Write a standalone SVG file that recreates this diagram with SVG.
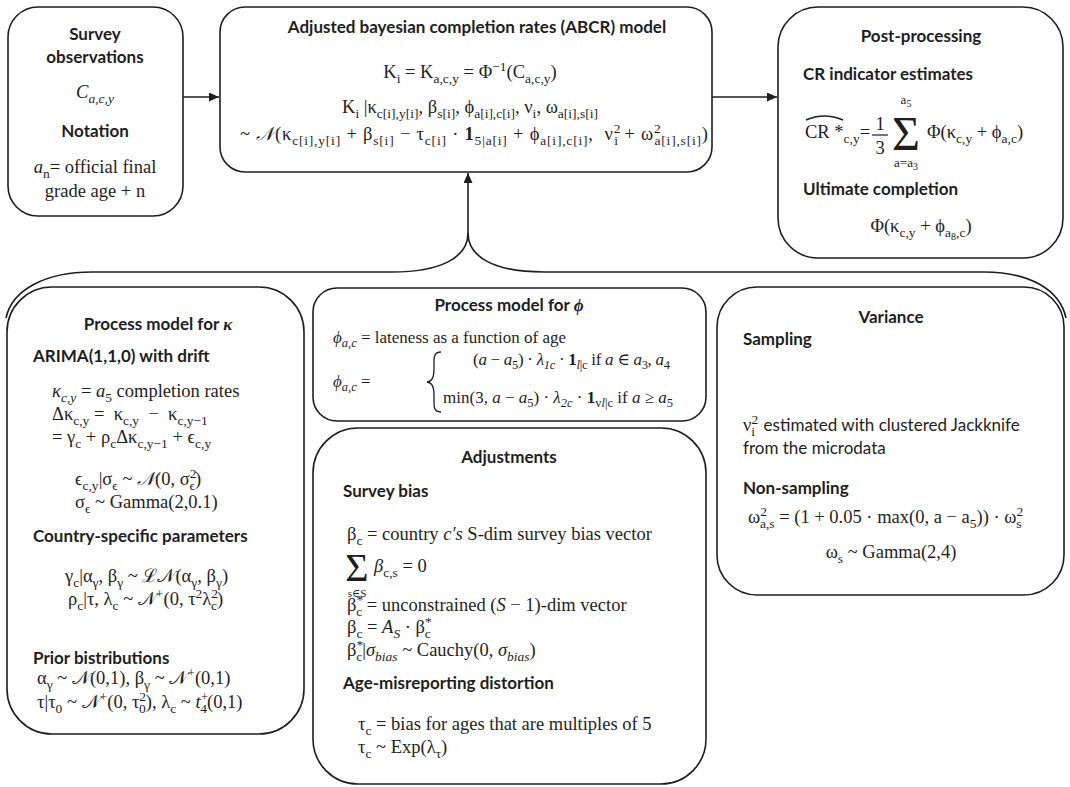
<svg xmlns="http://www.w3.org/2000/svg" width="1070" height="787" viewBox="0 0 1070 787">
<style>
.box{fill:#fff;stroke:#1e1e1e;stroke-width:1.6}
.con{fill:none;stroke:#1e1e1e;stroke-width:1.6}
.h{font-family:Lato,"Open Sans","Liberation Sans",sans-serif;font-weight:700;font-size:17px;fill:#1e1e1e}
.t{font-family:Lato,"Open Sans","Liberation Sans",sans-serif;font-size:17px;fill:#1e1e1e}
.m{font-family:"Liberation Serif","DejaVu Serif",serif;font-size:18.5px;fill:#1e1e1e}
.m17{font-size:17px}
.it{font-style:italic}
.bi{font-family:"Liberation Serif","DejaVu Serif",serif;font-style:italic;font-weight:700}
.b{font-weight:700}
.sb{font-size:13.5px;baseline-shift:-4.5px}
.sp{font-size:13.5px;baseline-shift:7.5px}
.m17 .sb{font-size:12.5px;baseline-shift:-4px}
.sm{font-size:13px}
.ss{font-size:10px;baseline-shift:-3px}
.big{font-size:40px}
.big2{font-size:48px}
</style>
<defs>
<marker id="ah" markerUnits="userSpaceOnUse" markerWidth="10" markerHeight="9" refX="10" refY="4.5" orient="auto">
<path d="M0,0 L10,4.5 L0,9 z" fill="#1e1e1e"/>
</marker>
</defs>

<g id="connectors">
<line class="con" x1="183" y1="97" x2="219" y2="97" marker-end="url(#ah)"/>
<line class="con" x1="710" y1="97" x2="777" y2="97" marker-end="url(#ah)"/>
<line class="con" x1="468" y1="233" x2="468" y2="173" marker-end="url(#ah)"/>
<path class="con" d="M468 233 C468 258 440 272 392 272 L92 272 C45 272 12 290 6 318"/>
<path class="con" d="M468 233 C468 258 496 272 544 272 L984 272 C1030 272 1060 290 1066 318"/>
</g>

<g id="survey">
<rect class="box" x="8" y="7" width="175" height="209" rx="30"/>
<text class="h" x="95" y="40" text-anchor="middle">Survey</text>
<text class="h" x="95" y="63" text-anchor="middle">observations</text>
<text class="m it" x="95" y="98" text-anchor="middle">C<tspan class="sb">a,c,y</tspan></text>
<text class="h" x="95" y="137" text-anchor="middle">Notation</text>
<text class="m" x="95" y="173" text-anchor="middle"><tspan class="it">a</tspan><tspan class="sb">n</tspan>= official final</text>
<text class="m" x="95" y="197" text-anchor="middle">grade age + n</text>
</g>

<g id="abcr">
<rect class="box" x="220" y="7" width="492" height="165" rx="25"/>
<text class="h" x="477" y="33" text-anchor="middle">Adjusted bayesian completion rates (ABCR) model</text>
<text class="m" x="470" y="78" text-anchor="middle">K<tspan class="sb">i</tspan> = K<tspan class="sb">a,c,y</tspan> = Φ<tspan class="sp">−1</tspan>(C<tspan class="sb">a,c,y</tspan>)</text>
<text class="m" x="470" y="113" text-anchor="middle">K<tspan class="sb">i</tspan> |κ<tspan class="sb">c[i],y[i]</tspan>, β<tspan class="sb">s[i]</tspan>, ϕ<tspan class="sb">a[i],c[i]</tspan>, ν<tspan class="sb">i</tspan>, ω<tspan class="sb">a[i],s[i]</tspan></text>
<text class="m" x="240" y="140" textLength="468" lengthAdjust="spacing">~ <tspan class="it">𝒩</tspan>(κ<tspan class="sb">c[i],y[i]</tspan> + β<tspan class="sb">s[i]</tspan> − τ<tspan class="sb">c[i]</tspan> · <tspan class="b">1</tspan><tspan class="sb">5|a[i]</tspan> + ϕ<tspan class="sb">a[i],c[i]</tspan>,&#160; ν<tspan class="sp">2</tspan><tspan class="sb" dx="-7">i</tspan> + ω<tspan class="sp">2</tspan><tspan class="sb" dx="-7">a[i],s[i]</tspan>)</text>
</g>

<g id="post">
<rect class="box" x="778" y="7" width="285" height="251" rx="40"/>
<text class="h" x="921" y="42" text-anchor="middle">Post-processing</text>
<text class="h" x="803" y="80">CR indicator estimates</text>
<path class="con" d="M806 120 Q824 112 843 120" stroke-width="1"/>
<text class="m" x="805" y="138">CR *<tspan class="sb">c,y</tspan>=</text>
<text class="m" x="880" y="130" text-anchor="middle">1</text>
<line x1="872" y1="135" x2="888" y2="135" stroke="#1e1e1e" stroke-width="1.2"/>
<text class="m" x="880" y="154" text-anchor="middle">3</text>
<text class="m big2" x="906" y="150" text-anchor="middle">Σ</text>
<text class="m sm" x="906" y="104" text-anchor="middle">a<tspan class="ss">5</tspan></text>
<text class="m sm" x="906" y="167" text-anchor="middle">a=a<tspan class="ss">3</tspan></text>
<text class="m" x="927" y="138">Φ(κ<tspan class="sb">c,y</tspan> + ϕ<tspan class="sb">a,c</tspan>)</text>
<text class="h" x="803" y="195">Ultimate completion</text>
<text class="m" x="921" y="232" text-anchor="middle">Φ(κ<tspan class="sb">c,y</tspan> + ϕ<tspan class="sb">a<tspan class="ss">8</tspan>,c</tspan>)</text>
</g>

<g id="kappa">
<rect class="box" x="7" y="287" width="297" height="447" rx="45"/>
<text class="h" x="158" y="330" text-anchor="middle">Process model for <tspan class="bi">κ</tspan></text>
<text class="h" x="33" y="362">ARIMA(1,1,0) with drift</text>
<text class="m" x="52" y="397"><tspan class="it">κ</tspan><tspan class="sb it">c,y</tspan> = <tspan class="it">a</tspan><tspan class="sb">5</tspan> completion rates</text>
<text class="m" x="52" y="420">Δκ<tspan class="sb">c,y</tspan> =&#160; κ<tspan class="sb">c,y</tspan>&#160; −&#160; κ<tspan class="sb">c,y−1</tspan></text>
<text class="m" x="52" y="443">= γ<tspan class="sb">c</tspan> + ρ<tspan class="sb">c</tspan>Δκ<tspan class="sb">c,y−1</tspan> + ϵ<tspan class="sb">c,y</tspan></text>
<text class="m" x="75" y="485">ϵ<tspan class="sb">c,y</tspan>|σ<tspan class="sb">ϵ</tspan> ~ <tspan class="it">𝒩</tspan>(0, σ<tspan class="sp">2</tspan><tspan class="sb" dx="-7">ϵ</tspan>)</text>
<text class="m" x="75" y="508">σ<tspan class="sb">ϵ</tspan> ~ Gamma(2,0.1)</text>
<text class="h" x="33" y="542">Country-specific parameters</text>
<text class="m" x="65" y="582">γ<tspan class="sb">c</tspan>|α<tspan class="sb">γ</tspan>, β<tspan class="sb">γ</tspan> ~ ℒ𝒩(α<tspan class="sb">γ</tspan>, β<tspan class="sb">γ</tspan>)</text>
<text class="m" x="68" y="605">ρ<tspan class="sb">c</tspan>|τ, λ<tspan class="sb">c</tspan> ~ 𝒩<tspan class="sp">+</tspan>(0, τ<tspan class="sp">2</tspan>λ<tspan class="sp">2</tspan><tspan class="sb" dx="-7">c</tspan>)</text>
<text class="h" x="33" y="664">Prior bistributions</text>
<text class="m" x="37" y="684">α<tspan class="sb">γ</tspan> ~ 𝒩(0,1), β<tspan class="sb">γ</tspan> ~ 𝒩<tspan class="sp">+</tspan>(0,1)</text>
<text class="m" x="37" y="708">τ|τ<tspan class="sb">0</tspan> ~ 𝒩<tspan class="sp">+</tspan>(0, τ<tspan class="sp">2</tspan><tspan class="sb" dx="-7">0</tspan>), λ<tspan class="sb">c</tspan> ~ <tspan class="it">t</tspan><tspan class="sp">+</tspan><tspan class="sb" dx="-8">4</tspan>(0,1)</text>
</g>

<g id="phi">
<rect class="box" x="313" y="288" width="393" height="133" rx="24"/>
<text class="h" x="509" y="311" text-anchor="middle">Process model for <tspan class="bi">ϕ</tspan></text>
<text class="m m17" x="333" y="343"><tspan class="it">ϕ</tspan><tspan class="sb it">a,c</tspan> = lateness as a function of age</text>
<text class="m m17" x="333" y="387"><tspan class="it">ϕ</tspan><tspan class="sb it">a,c</tspan> =</text>
<path d="M441 352 C433 352 434 358 434 368 C434 376 433 381 427 382 C433 383 434 388 434 396 C434 406 433 412 441 412" fill="none" stroke="#1e1e1e" stroke-width="1.3"/>
<text class="m m17" x="473" y="365" textLength="197" lengthAdjust="spacing">(<tspan class="it">a</tspan> − <tspan class="it">a</tspan><tspan class="sb">5</tspan>) · <tspan class="it">λ</tspan><tspan class="sb it">1c</tspan> · <tspan class="b">1</tspan><tspan class="sb"><tspan class="it">l</tspan>|c</tspan> if <tspan class="it">a</tspan> ∈ <tspan class="it">a</tspan><tspan class="sb">3</tspan>, <tspan class="it">a</tspan><tspan class="sb">4</tspan></text>
<text class="m m17" x="443" y="403" textLength="230" lengthAdjust="spacing">min(3, <tspan class="it">a</tspan> − <tspan class="it">a</tspan><tspan class="sb">5</tspan>) · <tspan class="it">λ</tspan><tspan class="sb it">2c</tspan> · <tspan class="b">1</tspan><tspan class="sb">v<tspan class="it">l</tspan>|c</tspan> if <tspan class="it">a</tspan> ≥ <tspan class="it">a</tspan><tspan class="sb">5</tspan></text>
</g>

<g id="adjustments">
<rect class="box" x="313" y="428" width="393" height="356" rx="45"/>
<text class="h" x="509" y="463" text-anchor="middle">Adjustments</text>
<text class="h" x="343" y="497">Survey bias</text>
<text class="m" x="347" y="540">β<tspan class="sb">c</tspan> = country <tspan class="it">c′s</tspan> S-dim survey bias vector</text>
<text class="m big" x="357" y="581" text-anchor="middle">Σ</text>
<text class="m" x="374" y="572"><tspan class="it">β</tspan><tspan class="sb">c,s</tspan> = 0</text>
<text class="m" x="357" y="597" text-anchor="middle" style="font-size:11px">s∈S</text>
<text class="m" x="347" y="611">β<tspan class="sp">*</tspan><tspan class="sb" dx="-7">c</tspan> = unconstrained (<tspan class="it">S</tspan> − 1)-dim vector</text>
<text class="m" x="347" y="633">β<tspan class="sb">c</tspan> = <tspan class="it">A</tspan><tspan class="sb it">S</tspan> · β<tspan class="sp">*</tspan><tspan class="sb" dx="-7">c</tspan></text>
<text class="m" x="347" y="656">β<tspan class="sp">*</tspan><tspan class="sb" dx="-7">c</tspan>|<tspan class="it">σ</tspan><tspan class="sb it">bias</tspan> ~ Cauchy(0, <tspan class="it">σ</tspan><tspan class="sb it">bias</tspan>)</text>
<text class="h" x="343" y="689">Age-misreporting distortion</text>
<text class="m" x="358" y="730">τ<tspan class="sb">c</tspan> = bias for ages that are multiples of 5</text>
<text class="m" x="358" y="753">τ<tspan class="sb">c</tspan> ~ Exp(λ<tspan class="sb">τ</tspan>)</text>
</g>

<g id="variance">
<rect class="box" x="717" y="287" width="347" height="308" rx="40"/>
<text class="h" x="891" y="323" text-anchor="middle">Variance</text>
<text class="h" x="743" y="345">Sampling</text>
<text class="t" x="743" y="431"><tspan class="m">ν<tspan class="sp">2</tspan><tspan class="sb" dx="-7">i</tspan></tspan>&#160; estimated with clustered Jackknife</text>
<text class="t" x="743" y="454">from the microdata</text>
<text class="h" x="743" y="494">Non-sampling</text>
<text class="m" x="748" y="523">ω<tspan class="sp">2</tspan><tspan class="sb" dx="-7">a,s</tspan> = (1 + 0.05 · max(0, a − a<tspan class="sb">5</tspan>)) · ω<tspan class="sp">2</tspan><tspan class="sb" dx="-7">s</tspan></text>
<text class="m" x="891" y="558" text-anchor="middle">ω<tspan class="sb">s</tspan> ~ Gamma(2,4)</text>
</g>
</svg>
